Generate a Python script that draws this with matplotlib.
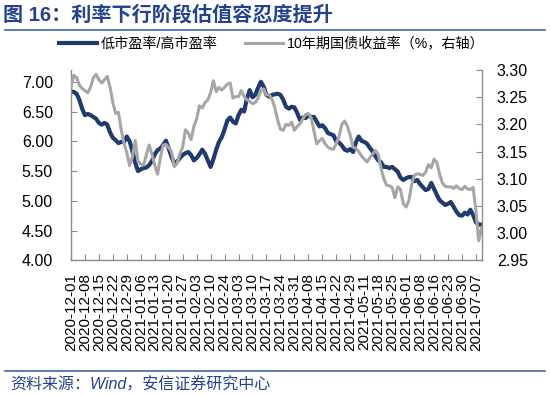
import numpy as np
import matplotlib
matplotlib.use('Agg')
import matplotlib.pyplot as plt
from matplotlib.lines import Line2D

plt.rcParams['font.family'] = ['Liberation Sans', 'Noto Sans CJK SC', 'DejaVu Sans']
plt.rcParams['axes.unicode_minus'] = False

# 刻度标签（每5个交易日一个）
tick_labels = ['2020-12-01', '2020-12-08', '2020-12-15', '2020-12-22', '2020-12-29',
               '2021-01-06', '2021-01-13', '2021-01-20', '2021-01-27', '2021-02-03',
               '2021-02-10', '2021-02-24', '2021-03-03', '2021-03-10', '2021-03-17',
               '2021-03-24', '2021-03-31', '2021-04-08', '2021-04-15', '2021-04-22',
               '2021-04-29', '2021-05-11', '2021-05-18', '2021-05-25', '2021-06-01',
               '2021-06-08', '2021-06-16', '2021-06-23', '2021-06-30', '2021-07-07']

# 低市盈率/高市盈率（左轴）
pe_ratio = [6.84, 6.83, 6.80, 6.70, 6.55, 6.44, 6.46, 6.44, 6.41, 6.38,
            6.31, 6.28, 6.31, 6.28, 6.15, 6.06, 6.02, 5.97, 5.99, 5.99,
            6.08, 6.00, 5.84, 5.64, 5.50, 5.53, 5.55, 5.56, 5.60, 5.67,
            5.78, 5.85, 5.88, 5.94, 6.01, 5.88, 5.74, 5.63, 5.66, 5.72,
            5.77, 5.80, 5.82, 5.77, 5.68, 5.72, 5.78, 5.86, 5.79, 5.68,
            5.57, 5.70, 5.86, 5.99, 6.07, 6.20, 6.35, 6.40, 6.33, 6.30,
            6.44, 6.53, 6.50, 6.72, 6.86, 6.74, 6.78, 6.90, 7.00, 6.92,
            6.78, 6.75, 6.78, 6.79, 6.80, 6.78, 6.70, 6.58, 6.55, 6.58,
            6.57, 6.48, 6.36, 6.40, 6.39, 6.44, 6.41, 6.41, 6.33, 6.25,
            6.27, 6.22, 6.14, 6.12, 6.10, 6.00, 5.98, 5.93, 5.86, 5.84,
            5.87, 5.82, 5.98, 6.08, 6.01, 5.99, 5.96, 5.89, 5.83, 5.75,
            5.68, 5.65, 5.57, 5.57, 5.55, 5.57, 5.53, 5.49, 5.39, 5.35,
            5.38, 5.40, 5.40, 5.33, 5.35, 5.28, 5.23, 5.18, 5.20, 5.30,
            5.20, 5.10, 5.01, 4.97, 4.93, 4.95, 4.98, 4.90, 4.82, 4.76,
            4.75, 4.80, 4.77, 4.85, 4.76, 4.64, 4.60, 4.60]

# 10年期国债收益率（右轴）
bond_yield = [3.268, 3.290, 3.286, 3.272, 3.266, 3.262, 3.258, 3.268, 3.285, 3.292,
              3.282, 3.276, 3.282, 3.288, 3.268, 3.240, 3.220, 3.222, 3.190, 3.165,
              3.148, 3.124, 3.140, 3.170, 3.132, 3.127, 3.125, 3.144, 3.162, 3.145,
              3.125, 3.108, 3.138, 3.162, 3.163, 3.157, 3.150, 3.122, 3.128, 3.146,
              3.158, 3.190, 3.184, 3.172, 3.196, 3.210, 3.234, 3.230, 3.240, 3.245,
              3.258, 3.280, 3.260, 3.268, 3.263, 3.268, 3.274, 3.276, 3.248, 3.251,
              3.251, 3.262, 3.251, 3.245, 3.242, 3.238, 3.240, 3.248, 3.262, 3.265,
              3.254, 3.254, 3.246, 3.230, 3.208, 3.191, 3.189, 3.200, 3.198, 3.204,
              3.189, 3.196, 3.201, 3.210, 3.218, 3.220, 3.212, 3.188, 3.164, 3.170,
              3.174, 3.164, 3.158, 3.155, 3.154, 3.165, 3.178, 3.200, 3.206, 3.196,
              3.180, 3.158, 3.156, 3.150, 3.142, 3.136, 3.131, 3.138, 3.145, 3.152,
              3.145, 3.120, 3.100, 3.088, 3.087, 3.084, 3.065, 3.085, 3.080, 3.054,
              3.048, 3.060, 3.090, 3.107, 3.109, 3.108, 3.106, 3.112, 3.126, 3.120,
              3.136, 3.130, 3.108, 3.092, 3.086, 3.085, 3.085, 3.082, 3.087, 3.082,
              3.080, 3.086, 3.081, 3.080, 3.084, 3.040, 2.986, 3.010]

navy = '#1F3A6E'
grey = '#A6A6A6'
title_blue = '#24428F'

fig = plt.figure(figsize=(5.5, 3.95), dpi=100)
ax1 = fig.add_axes([0.129, 0.341, 0.7465, 0.482])
ax2 = ax1.twinx()

x = np.arange(len(pe_ratio))
ax1.plot(x, pe_ratio, color=navy, lw=3.0, solid_joinstyle='round')
ax2.plot(x, bond_yield, color=grey, lw=2.2, solid_joinstyle='round')

ax1.set_xlim(0, len(pe_ratio) - 1)
ax1.set_ylim(4.0, 7.2)
ax1.set_yticks(np.arange(4.0, 7.01, 0.5))
ax1.set_yticklabels(['%.2f' % v for v in np.arange(4.0, 7.01, 0.5)])
ax2.set_ylim(2.95, 3.30)
ax2.set_yticks(np.arange(2.95, 3.301, 0.05))
ax2.set_yticklabels(['%.2f' % v for v in np.arange(2.95, 3.301, 0.05)])

ax1.set_xticks(np.arange(0, 5 * len(tick_labels), 5))
ax1.set_xticklabels(tick_labels, rotation=90, fontsize=11)

for ax in (ax1, ax2):
    for side in ax.spines:
        ax.spines[side].set_color('#8C8C8C')
        ax.spines[side].set_linewidth(1.0)
    ax.spines['top'].set_visible(False)
ax1.spines['right'].set_visible(False)
ax2.spines['left'].set_visible(False)
ax2.spines['bottom'].set_visible(False)

ax1.tick_params(axis='x', direction='in', length=4, color='#8C8C8C', pad=9)
ax1.tick_params(axis='y', direction='in', length=4, color='#8C8C8C', labelsize=11.5, pad=13)
ax2.tick_params(axis='y', direction='in', length=4, color='#8C8C8C', labelsize=11.5, pad=11)

# 图例
handles = [Line2D([], [], color=navy, lw=3.0),
           Line2D([], [], color=grey, lw=2.2)]
fig.legend(handles, ['低市盈率/高市盈率', '10年期国债收益率（%，右轴）'],
           loc='center', bbox_to_anchor=(0.494, 0.889), ncol=2, frameon=False,
           handlelength=2.7, handletextpad=0.25, columnspacing=1.9,
           prop={'family': ['Liberation Sans', 'Noto Sans CJK SC'], 'size': 10.2})

# 标题与来源
fig.text(0.006, 0.962, '图 16：利率下行阶段估值容忍度提升', color=title_blue,
         fontsize=14.5, fontweight='bold', va='center', ha='left',
         family=['Liberation Sans', 'Noto Sans CJK SC', 'DejaVu Sans'])
fig.add_artist(Line2D([0.009, 0.991], [0.924, 0.924], color='#3F62AE', lw=1.2))
fig.add_artist(Line2D([0.009, 0.991], [0.061, 0.061], color='#3F62AE', lw=1.2))
fig.text(0.018, 0.025, '资料来源：Wind，安信证券研究中心', color=title_blue,
         fontsize=11.5, style='italic', va='center', ha='left',
         family=['Liberation Sans', 'Noto Sans CJK SC', 'DejaVu Sans'])

fig.savefig('out.png', dpi=100)
